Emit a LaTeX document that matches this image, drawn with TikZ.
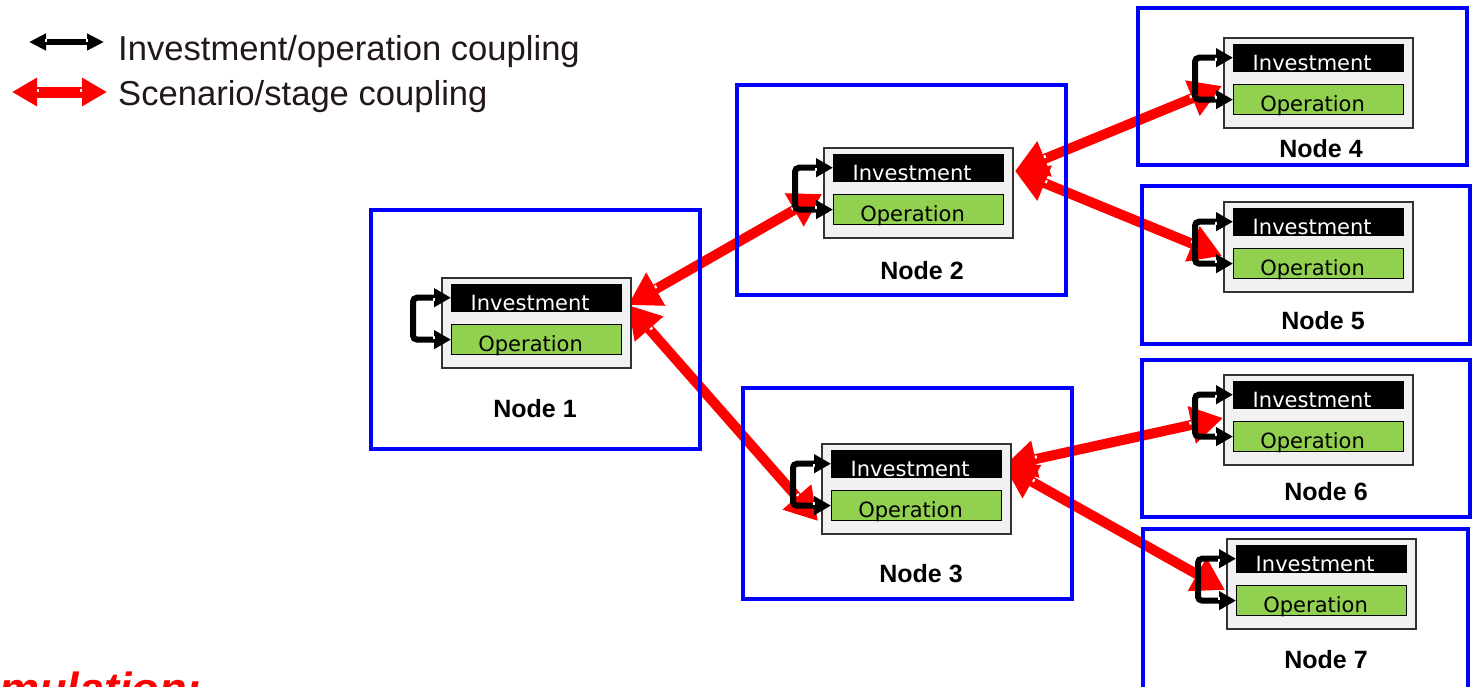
\documentclass[tikz,border=0pt]{standalone}
\usepackage{fontspec}
\setmainfont{Liberation Sans}
\newfontfamily\barfont{DejaVu Sans}
\usetikzlibrary{arrows.meta,decorations.markings}
\pgfdeclarelayer{bg}
\pgfsetlayers{bg,main}
\definecolor{frameblue}{RGB}{0,0,255}
\definecolor{opgreen}{RGB}{146,208,80}
\definecolor{boxgray}{RGB}{241,241,241}
\definecolor{legendtext}{RGB}{35,24,24}

\tikzset{
  notch/.style={postaction={decorate, decoration={markings,
      mark=at position #1 with {\draw[white, line width=2pt, arrows=-] (0,0.5pt) -- (0,3.5pt);},
      mark=at position -#1 with {\draw[white, line width=2pt, arrows=-] (0,0.5pt) -- (0,3.5pt);}}}},
  stageframe/.style={draw=frameblue, line width=4pt, rectangle, inner sep=0},
  stagebox/.style={draw=black!80, fill=boxgray, line width=1.5pt, minimum width=189pt,
      minimum height=90pt, anchor=north west, inner sep=0},
  invbar/.style={draw=black, fill=black, minimum width=170pt, minimum height=27pt,
      anchor=north west, inner sep=0},
  opbar/.style={draw=black, fill=opgreen, line width=1.2pt, minimum width=170pt,
      minimum height=30pt, anchor=north west, inner sep=0},
  bartext/.style={font=\barfont\fontsize{21}{21}\selectfont, inner sep=0},
  nodelabel/.style={font=\bfseries\fontsize{25}{25}\selectfont, inner sep=0},
  pairlink/.style={draw=black, line width=6pt, rounded corners=4pt,
      {Triangle[length=17pt,width=18pt]}-{Triangle[length=17pt,width=18pt]}, notch=17pt},
  stagelink/.style={draw=red, line width=10pt,
      {Triangle[length=32pt,width=36pt]}-{Triangle[length=32pt,width=36pt]}, notch=33pt},
  legendlabel/.style={font=\fontsize{34.6}{34.6}\selectfont, text=legendtext, anchor=base west, inner sep=0},
}

% one scenario node: frame, stage box, two bars and the coupling loop
% #1 id, #2-#5 frame corners, #6-#7 stage box corner, #8-#9 label centre
\newcommand\stagegroup[9]{%
  \node[stageframe, minimum width={(#4-#2-4)*1pt}, minimum height={(#5-#3-4)*1pt}]
      (f#1) at ({(#2+#4)/2},{(#3+#5)/2}) {};
  \node[stagebox] (g#1) at (#6,#7) {};
  \node[invbar] (inv#1) at (#6+10,#7+7) {};
  \node[opbar] (op#1) at (#6+10,#7+47) {};
  \node[bartext, text=white] (it#1) at ([xshift=-6pt,yshift=-5.5pt]inv#1.center) {Investment};
  \node[bartext] (ot#1) at ([xshift=-6pt,yshift=-6.5pt]op#1.center) {Operation};
  \draw[pairlink] (inv#1.west) -- ++(-38,0) |- (op#1.west);
  \node[nodelabel] (n#1) at (#8,#9) {Node #1};
}

\begin{document}
\begin{tikzpicture}[x=1pt,y=-1pt]
\useasboundingbox (0,0) rectangle (1474,686);
\clip (0,0) rectangle (1474,686);

% legend
\coordinate (lb1) at (29,42);
\coordinate (lb2) at (104,42);
\draw[draw=black, line width=5.5pt,
      {Triangle[length=17pt,width=16pt]}-{Triangle[length=17pt,width=16pt]}, notch=17pt] (lb1) -- (lb2);
\coordinate (lr1) at (12,92);
\coordinate (lr2) at (107,92);
\draw[draw=red, line width=11pt,
      {Triangle[length=25pt,width=27pt]}-{Triangle[length=25pt,width=27pt]}, notch=26pt] (lr1) -- (lr2);
\node[legendlabel] (leg1) at (118,60) {Investment/operation coupling};
\node[legendlabel] (leg2) at (118,105) {Scenario/stage coupling};

% scenario tree
\stagegroup{1}{369}{208}{702}{451}{441}{277}{535}{409}
\stagegroup{2}{735}{83}{1068}{297}{823}{147}{922}{271}
\stagegroup{3}{741}{386}{1074}{601}{821}{443}{921}{574}
\stagegroup{4}{1136}{6}{1469}{167}{1223}{37}{1321}{149}
\stagegroup{5}{1140}{184}{1472}{346}{1223}{201}{1323}{321}
\stagegroup{6}{1140}{358}{1472}{519}{1223}{374}{1326}{492}
\stagegroup{7}{1141}{527}{1470}{700}{1226}{538}{1326}{660}

% link end points on the stage boxes
\coordinate (R1) at ([shift={(187,28)}]g1.north west);
\coordinate (L2) at ([shift={(-1,47)}]g2.north west);
\coordinate (R2) at ([shift={(192,24)}]g2.north west);
\coordinate (L3) at ([shift={(-3,78)}]g3.north west);
\coordinate (R3) at ([shift={(183,23)}]g3.north west);
\coordinate (L4) at ([shift={(-1,49)}]g4.north west);
\coordinate (L5) at ([shift={(-1,55)}]g5.north west);
\coordinate (L6) at ([shift={(0,44)}]g6.north west);
\coordinate (L7) at ([shift={(-1,52)}]g7.north west);

\begin{pgfonlayer}{bg}
\fill[white] (0,0) rectangle (1474,686);
\draw[stagelink] (R1) -- (L2);
\draw[stagelink] (R1) -- (L3);
\draw[stagelink] (R2) -- (L4);
\draw[stagelink] (R2) -- (L5);
\draw[stagelink] (R3) -- (L6);
\draw[stagelink] (R3) -- (L7);
\end{pgfonlayer}

\node[font=\bfseries\itshape\fontsize{45}{45}\selectfont, text=red, anchor=base west, inner sep=0]
    (title) at (-1,704) {mulation:};
\end{tikzpicture}
\end{document}
